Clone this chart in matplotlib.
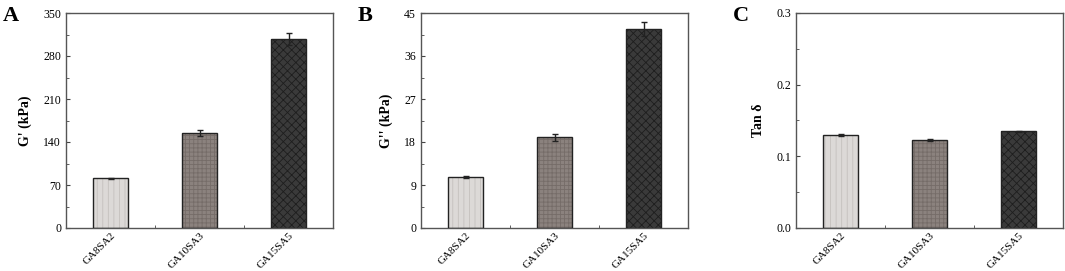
import numpy as np
import matplotlib
matplotlib.use("Agg")
import matplotlib.pyplot as plt
from matplotlib.ticker import MultipleLocator, FixedLocator, FormatStrFormatter

plt.rcParams['font.family'] = ['Liberation Serif', 'DejaVu Serif']
plt.rcParams['hatch.linewidth'] = 0.6

# ---- data ----
samples = ['GA8SA2', 'GA10SA3', 'GA15SA5']
g_storage = [81.0, 155.0, 308.0]
g_storage_err = [1.0, 5.0, 10.0]
g_loss = [10.6, 19.0, 41.7]
g_loss_err = [0.2, 0.7, 1.5]
tan_delta = [0.130, 0.123, 0.135]
tan_delta_err = [0.001, 0.001, 0.001]

panels = [
    ('A', "G' (kPa)", g_storage, g_storage_err, 350, 70),
    ('B', "G'' (kPa)", g_loss, g_loss_err, 45, 9),
    ('C', 'Tan δ', tan_delta, tan_delta_err, 0.3, 0.1),
]

face_colors = ['#dcd9d7', '#8b827e', '#3a3a3a']
hatch_colors = ['#c4c0bd', '#756c68', '#1e1e1e']
hatches = ['|||', '++++', 'xxxx']

fig = plt.figure(figsize=(10.65, 2.71), dpi=100)
lefts = [66, 421, 796]
for (label, ylab, vals, errs, ymax, step), left in zip(panels, lefts):
    ax = fig.add_axes([left / 1065, 43 / 271, 267 / 1065, 215 / 271])
    x = np.arange(1, len(samples) + 1)
    # hatched fill
    ax.bar(x, vals, 0.4, color=face_colors, edgecolor=hatch_colors,
           hatch=hatches, linewidth=0, zorder=2)
    # black outline + error bars
    ax.bar(x, vals, 0.4, fill=False, edgecolor='#222222', linewidth=1.0,
           yerr=errs, error_kw=dict(ecolor='#222222', elinewidth=1.0,
                                   capsize=2.5, capthick=1.0), zorder=3)
    ax.set_xlim(0.5, 3.5)
    ax.set_ylim(0, ymax)
    ax.yaxis.set_major_locator(MultipleLocator(step))
    ax.yaxis.set_minor_locator(MultipleLocator(step / 2))
    ax.set_xticks(x)
    ax.xaxis.set_minor_locator(FixedLocator([1.5, 2.5]))
    ax.set_xticklabels(samples, rotation=45, ha='right',
                       rotation_mode='anchor', fontsize=8)
    ax.tick_params(axis='both', which='both', direction='in',
                   color='#444444', labelsize=8.5)
    ax.tick_params(axis='x', labelsize=8, pad=2)
    ax.tick_params(which='major', length=3)
    ax.tick_params(which='minor', length=2)
    if label == 'C':
        ax.yaxis.set_major_formatter(FormatStrFormatter('%.1f'))
    for sp in ax.spines.values():
        sp.set_color('#555555')
        sp.set_linewidth(1.0)
    ax.set_ylabel(ylab, fontsize=10, fontweight='bold', labelpad=8)
    fig.text((left - 63) / 1065, 1 - 21 / 271, label, fontsize=16,
             fontweight='bold', ha='left', va='baseline')

fig.savefig('out.png', dpi=100)
